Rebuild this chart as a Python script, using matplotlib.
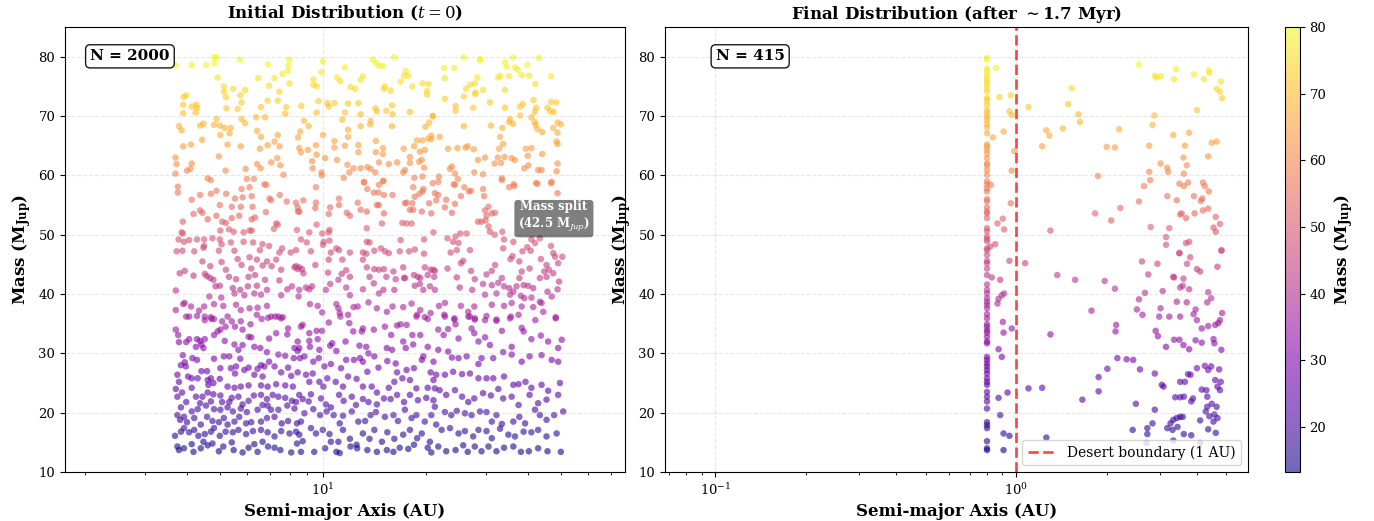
import matplotlib.pyplot as plt
import numpy as np
from matplotlib.colors import Normalize

# ---- data: (semi-major axis [AU], mass [M_Jup]) ----
# initial panel, upper band (M > ~58)
init_upper = [
    (3.70, 78.5), (4.12, 78.6), (4.54, 78.6), (4.79, 79.9), (4.87, 79.9), (4.81, 78.9), (5.70, 79.5), (6.90, 78.7),
    (7.96, 79.5), (7.93, 78.5), (7.90, 77.6), (7.61, 77.1), (4.91, 76.5), (6.46, 76.4), (7.21, 76.4), (7.98, 75.5),
    (6.95, 75.1), (5.12, 75.0), (5.45, 74.6), (5.91, 74.4), (5.72, 73.5), (5.19, 73.2), (3.90, 73.2), (3.97, 73.5),
    (5.12, 74.1), (7.45, 74.1), (6.88, 72.6), (5.77, 72.3), (7.37, 72.6), (7.80, 71.5), (6.58, 71.5), (3.89, 71.9),
    (4.12, 71.6), (4.25, 71.9), (4.27, 71.4), (5.21, 71.3), (5.62, 71.2), (3.89, 70.5), (4.23, 70.6), (7.75, 70.4),
    (4.87, 69.5), (5.77, 69.5), (6.37, 69.8), (6.76, 69.8), (5.91, 68.8), (3.78, 68.3), (3.85, 67.6), (4.36, 68.4),
    (4.46, 68.7), (4.79, 68.5), (4.98, 68.4), (5.14, 68.0), (5.36, 68.0), (5.00, 66.8), (5.32, 67.1), (6.41, 67.5),
    (7.37, 66.8), (6.58, 66.5), (4.42, 66.0), (4.10, 65.2), (3.89, 64.9), (5.25, 65.2), (5.74, 64.9), (6.53, 64.5),
    (6.88, 65.1), (7.21, 65.7), (7.46, 64.9), (4.95, 63.2), (3.69, 63.0), (3.72, 61.9), (4.12, 62.0), (3.99, 60.8),
    (4.08, 61.1), (7.05, 62.2), (6.41, 61.9), (6.56, 61.2), (7.34, 62.9), (7.50, 61.7), (5.18, 60.8), (5.93, 61.1),
    (3.69, 60.3), (4.59, 59.5), (4.69, 59.2), (5.98, 59.4), (6.27, 59.4), (6.73, 58.5), (7.66, 60.1),
    (10.0, 79.2), (9.9, 77.4), (9.37, 76.2), (9.37, 75.3), (9.58, 75.0), (11.6, 78.2), (14.0, 79.5), (14.3, 79.0),
    (14.6, 78.5), (15.0, 78.4), (16.2, 79.9), (17.5, 77.6), (17.3, 76.8), (17.8, 76.8), (16.9, 75.8), (18.3, 75.0),
    (19.6, 75.5), (20.4, 75.4), (20.2, 74.2), (20.2, 73.6), (13.1, 76.7), (12.9, 76.1), (11.0, 76.5), (11.25, 75.9),
    (12.05, 74.9), (12.45, 74.6), (15.2, 75.0), (15.1, 74.6), (15.8, 74.3), (8.64, 71.7), (9.7, 72.5), (10.3, 72.2),
    (10.4, 71.6), (10.8, 72.2), (11.85, 72.1), (12.7, 72.2), (14.25, 71.3), (14.4, 70.8), (15.35, 70.9), (15.95, 71.8),
    (18.0, 70.7), (9.58, 70.6), (11.6, 70.6), (12.9, 70.3), (16.0, 70.3), (21.0, 70.0), (8.8, 69.2), (9.08, 68.3),
    (8.58, 67.4), (8.45, 66.4), (10.0, 66.8), (11.4, 69.4), (11.85, 67.7), (11.85, 66.5), (12.9, 68.3), (13.75, 68.6),
    (13.8, 69.2), (15.95, 68.3), (20.5, 68.9), (20.0, 68.2), (18.9, 65.9), (19.6, 65.9), (20.4, 66.2), (20.8, 66.7),
    (14.3, 65.8), (8.52, 64.6), (8.62, 63.9), (9.03, 64.3), (9.54, 65.1), (9.58, 63.5), (10.8, 65.8), (10.8, 64.7),
    (11.6, 65.0), (12.7, 65.1), (12.7, 63.9), (15.0, 64.6), (15.0, 63.6), (17.25, 64.5), (18.5, 64.9), (19.25, 64.0),
    (19.9, 64.3), (9.29, 62.4), (10.15, 62.9), (11.0, 62.6), (14.3, 63.9), (14.6, 62.2), (15.6, 61.9), (16.5, 62.2),
    (18.0, 63.1), (18.0, 62.1), (19.15, 62.3), (19.5, 62.6), (9.33, 61.2), (9.9, 60.5), (9.92, 60.0), (11.8, 61.8),
    (11.95, 60.5), (12.3, 61.2), (12.9, 61.2), (13.5, 61.4), (13.8, 61.1), (14.25, 60.5), (17.2, 60.5), (17.4, 60.9),
    (19.8, 61.3), (19.6, 59.8), (18.55, 59.6), (11.5, 59.6), (13.2, 58.9), (15.05, 59.1),
    (25.9, 79.9), (28.9, 79.6), (28.9, 79.4), (36.2, 79.9), (43.0, 79.8), (34.2, 79.1), (22.7, 78.1), (24.3, 78.1),
    (34.6, 78.3), (37.3, 77.8), (36.6, 78.2), (39.8, 78.6), (22.8, 76.4), (28.4, 76.5), (27.9, 75.5), (27.0, 75.3),
    (26.3, 74.6), (28.0, 74.0), (28.0, 73.7), (29.5, 74.4), (32.7, 76.5), (33.1, 76.8), (35.2, 76.7), (38.3, 76.9),
    (40.3, 76.8), (42.0, 75.4), (46.7, 76.7), (34.2, 74.4), (25.9, 73.3), (22.8, 72.9), (30.9, 72.3), (24.5, 71.7),
    (24.5, 70.9), (27.6, 71.4), (34.2, 71.4), (37.9, 71.6), (38.6, 72.0), (41.5, 72.7), (42.2, 71.4), (41.9, 70.7),
    (45.6, 71.4), (46.7, 72.4), (48.4, 72.3), (46.5, 70.8), (47.5, 70.7), (21.0, 70.0), (25.9, 68.3), (31.1, 68.4),
    (33.6, 68.0), (35.4, 69.5), (35.2, 69.0), (36.1, 68.7), (37.9, 70.1), (40.9, 69.8), (41.8, 69.0), (42.1, 68.5),
    (42.6, 67.8), (44.0, 67.3), (47.4, 68.0), (48.8, 68.9), (49.9, 68.6), (48.8, 67.2), (20.8, 66.1), (22.0, 66.5),
    (33.1, 66.5), (33.8, 65.3), (48.5, 65.7), (48.8, 65.3), (23.3, 64.5), (24.8, 64.6), (26.2, 64.7), (26.6, 64.9),
    (27.7, 64.4), (32.9, 64.5), (34.1, 63.1), (32.6, 63.0), (39.4, 64.5), (40.9, 64.6), (39.9, 63.3), (44.0, 63.6),
    (29.9, 63.0), (28.5, 62.6), (31.9, 62.0), (33.3, 62.1), (35.8, 62.9), (36.6, 62.6), (39.0, 61.2), (40.1, 61.7),
    (42.8, 60.9), (43.8, 60.9), (48.8, 62.0), (48.5, 60.7), (23.6, 61.1), (23.9, 61.5), (24.4, 60.3), (27.8, 60.5),
    (29.5, 60.2), (33.5, 59.5), (21.9, 59.8), (24.9, 59.4), (21.8, 58.9), (24.2, 58.5), (36.3, 58.5), (42.2, 58.7),
    (46.9, 58.9),
]

# initial panel, middle band (~36 < M < ~58)
init_middle = [
    (3.75, 58.1), (3.75, 57.1), (4.12, 55.9), (4.36, 56.7), (4.69, 56.9), (4.87, 57.4), (5.20, 56.9), (5.77, 57.7),
    (6.09, 58.0), (6.82, 58.4), (5.52, 56.1), (5.81, 56.3), (6.18, 56.5), (6.97, 56.1), (7.04, 55.8), (7.47, 56.7),
    (7.83, 55.6), (8.43, 54.6), (8.53, 53.9), (4.98, 55.0), (5.40, 54.7), (5.74, 54.7), (6.21, 54.7), (6.80, 53.8),
    (4.17, 53.5), (4.36, 54.1), (4.43, 53.7), (4.59, 52.6), (4.87, 53.2), (5.40, 52.8), (5.68, 53.2), (6.18, 52.6),
    (6.32, 52.9), (3.88, 52.2), (5.06, 52.2), (5.19, 52.0), (7.29, 51.9), (7.37, 51.7), (7.18, 51.0), (8.39, 50.8),
    (3.85, 50.4), (3.88, 50.2), (3.77, 49.2), (3.91, 48.8), (4.05, 49.1), (4.27, 49.2), (4.48, 49.2), (4.74, 49.4),
    (5.00, 50.7), (5.30, 50.9), (5.47, 50.5), (5.85, 50.4), (6.09, 50.7), (6.18, 50.7), (4.98, 49.2), (5.04, 48.4),
    (5.37, 48.7), (5.85, 48.8), (6.24, 48.7), (6.65, 48.4), (6.95, 48.1), (7.59, 47.7), (8.04, 47.0), (8.34, 47.4),
    (3.72, 47.2), (3.87, 47.3), (4.19, 47.2), (4.46, 47.8), (4.48, 48.1), (4.95, 47.3), (5.50, 47.3), (6.53, 47.4),
    (7.45, 47.0), (4.43, 45.5), (5.04, 45.4), (5.62, 45.9), (6.09, 46.2), (6.40, 45.8), (6.85, 45.5), (7.29, 45.8),
    (3.93, 43.9), (3.80, 43.5), (4.17, 43.1), (4.50, 43.4), (4.67, 44.7), (5.19, 44.1), (5.77, 44.9), (6.16, 44.3),
    (6.65, 44.8), (7.07, 44.7), (7.54, 44.1), (8.25, 44.5), (8.43, 44.2), (4.67, 42.7), (4.77, 42.4), (4.57, 43.0),
    (5.30, 42.9), (5.56, 42.5), (6.05, 42.9), (6.32, 43.2), (6.76, 42.4), (7.45, 42.3), (4.84, 41.3), (4.98, 41.4),
    (5.44, 41.0), (5.72, 40.7), (6.02, 41.3), (6.40, 41.4), (6.58, 39.9), (6.85, 40.7), (7.86, 40.8), (8.11, 41.3),
    (3.70, 40.6), (4.64, 39.6), (5.03, 39.4), (5.50, 40.1), (5.88, 39.8), (6.29, 40.1), (7.54, 39.8), (3.89, 38.3),
    (3.93, 38.5), (4.10, 37.9), (4.48, 37.9), (4.33, 37.2), (4.79, 38.3), (5.10, 38.0), (5.56, 38.2), (5.74, 37.3),
    (6.09, 37.6), (6.43, 37.7), (6.85, 38.0), (4.27, 36.3), (4.50, 36.2), (4.69, 36.1), (3.70, 37.3), (3.97, 36.2),
    (5.25, 36.2), (6.40, 36.5), (7.04, 36.2), (7.40, 36.2), (7.62, 36.1),
    (9.54, 58.0), (13.2, 58.8), (14.6, 58.4), (15.0, 59.0), (13.5, 57.7), (14.1, 57.1), (14.55, 57.1), (15.1, 56.7),
    (16.0, 56.7), (18.4, 58.0), (19.2, 56.9), (19.6, 57.3), (19.7, 57.7), (21.0, 58.7), (18.6, 56.4), (17.6, 55.4),
    (18.3, 55.3), (8.76, 55.8), (8.33, 55.4), (8.45, 53.9), (9.54, 55.4), (9.5, 54.5), (10.5, 54.6), (10.4, 53.5),
    (11.15, 56.1), (11.15, 55.0), (11.75, 53.7), (12.0, 53.2), (12.65, 55.4), (12.9, 54.2), (13.45, 53.9), (14.4, 55.0),
    (14.6, 55.0), (15.1, 53.6), (17.4, 55.3), (18.0, 54.2), (18.4, 54.2), (19.5, 53.9), (20.5, 55.3), (20.8, 53.6),
    (9.58, 51.7), (9.12, 50.4), (9.95, 50.2), (10.45, 50.8), (10.4, 50.4), (14.9, 51.9), (17.1, 52.0), (17.6, 51.9),
    (18.2, 51.9), (13.45, 51.1), (21.1, 50.4), (8.62, 49.2), (8.96, 48.7), (10.05, 48.8), (10.0, 48.3), (10.45, 49.0),
    (13.45, 48.8), (13.7, 48.7), (16.9, 49.1), (19.8, 49.2), (9.22, 47.2), (10.55, 47.0), (10.95, 47.7), (11.15, 47.4),
    (12.0, 47.0), (13.1, 47.0), (13.4, 46.8), (14.15, 47.3), (14.8, 47.7), (15.2, 47.2), (15.6, 46.9), (16.8, 47.2),
    (17.9, 47.2), (18.6, 47.5), (19.8, 46.8), (8.33, 44.7), (8.52, 44.5), (8.68, 44.2), (8.76, 43.5), (9.5, 44.9),
    (10.4, 45.8), (11.4, 45.8), (13.1, 45.8), (13.45, 44.5), (14.15, 44.2), (14.6, 44.1), (15.1, 44.2), (16.1, 43.8),
    (17.2, 44.5), (19.9, 44.5), (20.7, 44.1), (21.1, 44.1), (10.35, 43.6), (11.35, 43.4), (11.7, 44.0), (12.0, 42.9),
    (15.35, 42.9), (16.35, 42.5), (17.4, 42.7), (18.5, 43.2), (19.0, 42.9), (19.3, 42.7), (20.3, 43.2), (8.52, 40.7),
    (8.92, 41.1), (9.12, 40.8), (9.29, 41.3), (10.2, 40.7), (10.5, 41.7), (11.1, 42.4), (11.7, 41.1), (12.0, 39.8),
    (13.1, 40.8), (13.7, 42.9), (14.1, 41.8), (15.05, 40.7), (16.2, 40.7), (17.3, 42.7), (18.6, 41.4), (19.25, 41.7),
    (19.7, 40.7), (20.6, 41.3), (8.48, 39.6), (9.16, 38.3), (9.65, 38.0), (9.95, 36.9), (10.95, 38.3), (11.1, 37.6),
    (11.2, 36.8), (11.85, 36.5), (12.3, 37.8), (12.65, 37.9), (13.6, 38.6), (14.4, 37.6), (14.6, 40.1), (15.4, 37.0),
    (16.0, 37.9), (17.2, 37.8), (18.2, 38.4), (19.3, 37.3), (18.9, 36.5), (19.9, 36.1), (20.7, 36.8),
    (24.4, 58.4), (26.0, 58.0), (27.2, 57.4), (29.5, 57.7), (33.5, 59.2), (35.2, 58.0), (36.4, 58.2), (42.6, 58.6),
    (46.7, 58.7), (48.8, 57.0), (21.8, 56.7), (23.0, 55.9), (24.4, 55.2), (25.4, 56.5), (26.8, 57.3), (29.7, 56.5),
    (30.6, 54.7), (31.3, 53.6), (32.0, 53.7), (29.9, 54.1), (30.2, 53.2), (23.9, 53.7), (22.8, 54.6), (21.5, 55.8),
    (21.3, 57.0), (28.5, 52.2), (29.2, 52.2), (30.0, 52.4), (30.9, 50.5), (31.9, 50.0), (33.6, 50.5), (30.6, 51.4),
    (26.4, 50.2), (25.3, 50.2), (24.5, 49.7), (23.2, 49.4), (25.0, 48.6), (24.1, 48.8), (24.7, 47.4), (23.7, 47.0),
    (27.0, 47.4), (34.0, 49.2), (33.8, 47.7), (36.2, 48.8), (38.5, 47.2), (39.8, 47.9), (40.9, 49.2), (41.9, 48.6),
    (40.7, 47.3), (43.3, 49.4), (46.7, 48.1), (47.4, 46.9), (48.0, 46.3), (49.0, 45.2), (50.4, 46.3), (37.7, 45.5),
    (35.5, 45.9), (36.0, 46.4), (43.6, 45.9), (45.3, 44.9), (46.0, 44.1), (47.4, 43.5), (44.6, 43.8), (40.4, 44.3),
    (38.3, 43.8), (32.0, 44.9), (31.3, 43.9), (30.2, 43.3), (27.2, 43.9), (25.4, 45.2), (25.8, 45.6), (23.2, 44.3),
    (21.3, 43.9), (21.2, 42.9), (24.7, 42.8), (27.9, 42.5), (33.5, 42.7), (37.7, 42.7), (34.0, 41.3), (35.2, 41.0),
    (37.0, 41.3), (36.2, 40.4), (38.8, 41.5), (40.0, 41.4), (41.4, 41.0), (43.3, 42.7), (45.3, 42.9), (49.3, 42.1),
    (48.8, 40.8), (45.6, 40.4), (21.3, 40.7), (25.2, 41.1), (27.4, 40.7), (29.5, 41.7), (31.3, 41.5), (32.7, 41.9),
    (29.9, 39.9), (32.3, 40.1), (35.4, 39.9), (38.1, 39.7), (39.0, 39.3), (40.9, 39.4), (43.3, 38.7), (46.9, 39.6),
    (21.9, 38.0), (22.8, 38.5), (25.4, 38.0), (26.7, 37.0), (27.8, 37.9), (31.3, 38.2), (34.0, 38.0), (35.8, 38.5),
    (38.3, 37.9), (41.4, 37.8), (43.8, 38.5), (44.3, 37.0), (22.7, 36.5), (24.3, 35.7), (27.0, 36.2), (27.9, 35.7),
    (30.2, 36.3), (32.3, 35.7), (35.6, 36.2), (37.5, 36.5), (48.2, 36.1),
]

# initial panel, lower band (M < ~36)
init_lower = [
    (4.05, 36.2), (4.50, 35.6), (4.71, 35.8), (4.79, 35.8), (5.06, 35.4), (5.40, 35.4), (5.74, 35.4), (6.13, 34.9),
    (6.61, 35.8), (6.90, 36.0), (7.24, 36.2), (7.54, 35.9), (3.70, 34.0), (3.76, 33.1), (4.05, 32.4), (4.27, 32.4),
    (4.36, 32.1), (4.50, 32.4), (4.79, 33.1), (4.91, 33.7), (5.00, 34.0), (5.18, 34.5), (5.52, 34.5), (5.81, 34.0),
    (6.05, 32.8), (6.16, 32.7), (6.95, 32.5), (7.29, 33.4), (7.86, 33.2), (7.90, 34.2), (3.78, 31.9), (3.97, 31.9),
    (4.24, 31.1), (4.40, 31.5), (4.46, 30.9), (5.15, 32.1), (5.50, 31.5), (5.65, 30.6), (5.81, 31.4), (6.29, 31.1),
    (6.55, 30.9), (6.85, 30.2), (7.40, 29.8), (8.25, 30.9), (8.43, 30.4), (3.88, 29.7), (3.93, 28.5), (4.14, 29.2),
    (4.27, 28.9), (4.79, 29.1), (5.12, 29.5), (5.31, 29.5), (5.56, 27.8), (5.72, 29.1), (6.05, 27.6), (6.43, 27.4),
    (6.58, 28.0), (6.95, 28.6), (7.75, 29.6), (8.21, 29.2), (7.90, 27.6), (3.83, 28.0), (3.96, 27.8), (4.40, 27.0),
    (4.57, 27.0), (5.00, 27.5), (5.37, 27.5), (5.52, 26.6), (5.88, 27.2), (6.29, 26.4), (6.65, 26.1), (6.73, 27.8),
    (7.21, 27.8), (7.54, 26.8), (8.07, 26.2), (8.43, 26.8), (3.74, 26.4), (3.78, 25.2), (4.02, 26.1), (4.12, 25.8),
    (4.29, 25.8), (4.59, 25.5), (4.61, 24.7), (4.69, 25.8), (4.77, 25.0), (4.98, 25.7), (5.25, 24.4), (5.50, 24.2),
    (5.74, 24.4), (6.05, 24.6), (6.58, 24.6), (6.88, 24.4), (7.29, 24.8), (7.75, 24.6), (8.16, 24.4), (3.70, 24.0),
    (3.74, 22.7), (3.86, 23.4), (4.12, 24.2), (4.24, 22.7), (4.43, 22.7), (4.59, 23.4), (4.69, 21.9), (4.77, 23.1),
    (5.00, 22.9), (5.06, 21.8), (5.31, 21.8), (5.40, 22.5), (5.65, 22.7), (5.81, 21.4), (6.05, 22.0), (6.27, 22.9),
    (6.58, 23.0), (6.85, 22.3), (7.12, 23.0), (7.40, 22.7), (7.75, 22.5), (8.11, 22.0), (8.34, 21.8), (3.83, 20.9),
    (3.97, 21.8), (4.12, 20.2), (4.29, 20.6), (4.36, 21.6), (4.54, 21.2), (4.79, 20.6), (5.00, 20.5), (5.25, 20.9),
    (5.44, 20.2), (5.74, 20.7), (5.98, 20.1), (6.43, 20.5), (6.65, 21.3), (6.88, 21.2), (7.04, 20.5), (7.40, 20.5),
    (7.86, 21.2), (8.25, 20.7), (3.74, 19.6), (3.81, 18.8), (3.91, 19.3), (3.99, 18.4), (4.19, 19.1), (4.38, 18.0),
    (4.57, 19.3), (4.74, 18.6), (4.95, 18.4), (5.12, 19.1), (5.25, 18.0), (5.50, 18.5), (5.68, 19.3), (5.95, 18.2),
    (6.16, 18.4), (6.58, 18.5), (6.85, 19.1), (7.21, 19.3), (7.57, 18.2), (7.90, 18.6), (8.39, 18.2), (3.68, 16.1),
    (3.83, 16.8), (3.91, 17.4), (4.05, 16.7), (4.19, 17.1), (4.31, 16.1), (4.50, 16.4), (4.69, 16.8), (4.79, 17.4),
    (4.98, 16.1), (5.18, 16.8), (5.44, 16.7), (5.65, 17.1), (5.95, 16.4), (6.23, 16.9), (6.58, 17.1), (6.88, 16.7),
    (7.21, 16.0), (7.54, 16.9), (7.98, 16.5), (8.34, 16.8), (3.74, 14.3), (3.78, 13.7), (3.91, 14.0), (4.12, 14.7),
    (4.17, 13.4), (4.38, 14.0), (4.46, 15.1), (4.59, 14.5), (4.74, 14.8), (4.95, 13.5), (5.10, 14.3), (5.40, 15.0),
    (5.47, 13.7), (5.81, 13.3), (6.05, 14.1), (6.29, 14.7), (6.43, 13.4), (6.65, 15.1), (6.90, 14.3), (7.21, 14.1),
    (7.50, 13.7), (8.07, 13.3), (8.39, 14.8),
    (8.62, 34.5), (8.72, 34.8), (9.12, 33.4), (9.58, 33.8), (9.94, 33.8), (10.4, 35.2), (11.25, 36.2), (11.95, 35.1),
    (12.27, 33.7), (13.0, 33.7), (13.1, 34.2), (14.1, 34.0), (15.2, 34.5), (15.85, 33.1), (16.5, 34.7), (16.9, 34.9),
    (17.6, 34.8), (18.3, 33.1), (19.3, 33.1), (18.8, 36.2), (20.3, 35.8), (8.43, 32.0), (8.52, 30.9), (9.12, 32.1),
    (9.16, 31.1), (9.65, 32.4), (9.76, 30.6), (10.5, 31.3), (10.65, 31.7), (10.95, 30.4), (11.65, 32.0), (12.8, 31.3),
    (13.4, 31.1), (13.6, 30.0), (14.15, 29.5), (15.4, 30.9), (15.95, 30.6), (17.2, 32.0), (17.5, 30.9), (18.4, 31.5),
    (19.7, 29.5), (20.3, 31.1), (21.1, 28.6), (8.56, 29.2), (8.82, 29.5), (9.37, 28.6), (9.72, 29.2), (10.1, 27.8),
    (10.55, 28.2), (11.3, 27.5), (11.7, 28.9), (12.33, 28.9), (12.84, 29.2), (13.1, 28.6), (13.5, 26.9), (14.55, 27.6),
    (15.45, 28.7), (16.35, 28.3), (16.5, 26.8), (17.6, 27.2), (18.5, 27.5), (19.5, 28.9), (20.7, 26.8), (8.92, 26.4),
    (9.12, 25.2), (9.33, 26.6), (9.76, 25.2), (10.03, 24.4), (10.3, 25.8), (10.9, 25.2), (11.45, 24.4), (11.85, 26.1),
    (12.55, 25.7), (13.1, 24.4), (13.9, 24.4), (14.4, 23.4), (15.6, 24.2), (16.2, 25.2), (17.1, 25.8), (18.0, 25.5),
    (18.8, 24.1), (20.3, 24.2), (21.1, 25.5), (8.52, 23.0), (8.72, 22.3), (9.08, 21.9), (9.22, 23.1), (9.87, 22.4),
    (10.2, 21.4), (10.55, 20.9), (11.15, 23.0), (11.5, 22.0), (12.15, 22.7), (12.5, 21.3), (13.1, 22.3), (13.6, 21.8),
    (14.4, 21.4), (15.1, 22.4), (15.8, 22.3), (16.5, 23.0), (17.3, 21.8), (18.0, 23.0), (19.0, 22.1), (20.1, 22.5),
    (21.1, 22.1), (8.62, 18.5), (8.82, 19.9), (9.37, 20.6), (9.81, 19.6), (10.25, 20.2), (10.75, 19.6), (11.2, 18.2),
    (11.45, 19.5), (12.15, 20.2), (12.7, 18.5), (13.3, 18.6), (13.8, 19.6), (14.3, 20.1), (15.2, 19.3), (16.1, 19.6),
    (16.6, 18.6), (17.4, 20.5), (18.2, 19.1), (18.8, 19.6), (19.9, 18.5), (20.8, 19.6), (8.52, 16.3), (8.72, 15.2),
    (9.22, 17.4), (9.54, 16.5), (9.99, 17.1), (10.45, 16.4), (10.55, 15.1), (11.1, 15.1), (11.45, 17.1), (12.0, 15.6),
    (12.55, 14.6), (13.1, 16.5), (13.7, 15.6), (14.15, 17.1), (14.9, 15.1), (15.45, 16.7), (16.2, 15.6), (17.2, 16.3),
    (18.0, 17.1), (18.9, 15.7), (19.5, 16.5), (20.6, 15.1), (8.62, 13.4), (9.43, 13.4), (10.15, 14.0), (10.95, 13.4),
    (11.2, 13.2), (12.05, 14.3), (12.6, 14.0), (13.5, 13.7), (14.4, 13.4), (15.4, 13.7), (16.1, 13.4), (16.8, 14.1),
    (17.8, 13.9), (18.5, 14.6), (20.3, 14.1), (20.8, 13.3),
    (22.8, 36.2), (24.3, 35.9), (26.7, 36.2), (27.9, 35.9), (29.9, 35.6), (32.3, 35.5), (35.4, 35.9), (38.3, 34.3),
    (42.0, 35.6), (48.2, 35.9), (21.8, 34.0), (22.6, 33.1), (23.3, 34.1), (24.5, 34.9), (25.0, 32.5), (27.3, 34.2),
    (27.8, 33.4), (28.6, 32.0), (29.9, 32.7), (30.9, 31.4), (33.5, 33.8), (35.8, 31.1), (38.8, 33.7), (40.9, 32.4),
    (43.6, 33.0), (45.8, 32.0), (49.0, 30.9), (50.2, 32.3), (21.8, 30.6), (23.3, 30.3), (23.9, 29.3), (25.0, 29.2),
    (26.4, 29.5), (28.6, 28.2), (29.2, 29.2), (31.6, 29.2), (33.8, 30.2), (35.8, 29.8), (38.3, 28.6), (40.4, 29.5),
    (43.8, 29.7), (46.9, 28.9), (49.0, 28.6), (21.5, 26.4), (22.8, 26.4), (24.1, 26.9), (25.6, 26.5), (27.0, 26.6),
    (28.6, 25.8), (30.2, 25.8), (31.6, 25.8), (34.0, 26.1), (36.2, 24.7), (37.5, 24.8), (39.3, 25.2), (40.9, 24.2),
    (43.8, 24.7), (45.8, 23.7), (49.6, 25.0), (21.3, 24.1), (22.0, 23.8), (23.0, 23.0), (24.4, 23.8), (25.6, 22.7),
    (26.7, 21.8), (27.8, 22.4), (29.5, 23.3), (31.1, 22.9), (32.7, 24.0), (33.8, 22.4), (35.8, 22.7), (37.5, 21.3),
    (40.4, 23.0), (42.8, 21.6), (45.3, 22.2), (49.0, 23.0), (21.3, 21.0), (22.8, 20.1), (23.8, 19.6), (24.7, 20.3),
    (26.1, 19.9), (27.3, 19.6), (28.9, 20.2), (30.2, 20.1), (31.3, 18.5), (32.3, 19.6), (33.5, 18.1), (36.2, 18.5),
    (37.7, 19.3), (39.2, 18.2), (41.9, 20.5), (43.3, 19.6), (45.3, 18.8), (47.7, 19.6), (50.7, 20.2), (21.5, 18.0),
    (22.3, 17.1), (23.6, 17.4), (25.0, 16.5), (26.1, 16.9), (27.6, 16.0), (28.6, 17.1), (30.2, 16.9), (31.3, 15.7),
    (33.1, 17.3), (35.0, 16.3), (36.6, 16.0), (38.8, 16.8), (40.9, 16.7), (42.8, 17.1), (45.3, 16.0), (48.5, 16.5),
    (21.8, 14.3), (23.0, 13.5), (24.5, 13.7), (25.8, 14.5), (26.6, 13.4), (27.9, 14.3), (29.2, 13.5), (30.6, 14.3),
    (32.3, 13.5), (34.0, 14.1), (36.2, 14.3), (38.1, 13.4), (40.2, 13.5), (42.8, 14.0), (45.6, 13.5), (49.9, 13.4),
]

# final panel: bodies parked at the inner edge (a = 0.8 AU), masses only
inner_edge_a = 0.8
final_inner_m = [
    79.8, 79.5, 78.0, 77.6, 76.9, 76.4, 75.8, 75.4, 74.7, 74.1, 73.0, 72.7, 71.9, 71.0, 70.5, 69.9, 69.4, 68.7,
    68.1, 67.1, 65.2, 64.9, 64.3, 63.7, 62.9, 62.0, 61.7, 60.9, 60.1, 59.0, 58.5, 57.8, 57.3, 56.0, 55.6, 54.6,
    53.9, 53.6, 52.8, 51.1, 50.6, 49.7, 49.3, 48.9, 47.7, 47.4, 46.6, 45.6, 45.2, 44.3, 43.2, 41.6, 40.7, 40.1,
    39.3, 38.7, 38.2, 37.6, 36.6, 35.9, 34.9, 34.5, 33.9, 33.5, 32.8, 32.0, 31.7, 29.4, 28.9, 28.3, 27.8, 27.2,
    26.6, 25.8, 25.2, 24.7, 23.5, 22.7, 21.9, 20.7, 18.4, 17.9, 17.4, 15.2, 14.0, 13.7,
]

# final panel: the scattered survivors
final_outer = [
    (0.858, 78.1), (0.880, 73.2), (0.960, 73.5), (0.950, 70.8), (0.967, 70.2), (1.099, 71.5), (0.908, 67.4),
    (0.837, 66.4), (0.985, 64.1), (0.967, 60.8), (0.824, 58.4), (0.960, 55.3), (0.867, 51.9), (0.903, 52.7),
    (0.912, 50.9), (0.820, 48.0), (0.852, 48.4), (0.950, 45.6), (1.071, 45.2), (0.830, 42.8), (0.885, 42.4),
    (0.912, 40.1), (0.896, 39.8), (0.874, 39.2), (0.867, 38.4), (0.903, 35.3), (0.908, 33.5), (0.967, 34.2),
    (0.874, 30.7), (0.896, 29.4), (1.099, 24.1), (0.936, 23.4), (0.874, 22.5), (0.885, 19.6), (0.908, 16.5),
    (0.950, 16.1), (0.908, 13.7),
    (1.26, 67.6), (1.29, 66.7), (1.22, 64.9), (1.43, 67.9), (1.53, 74.7), (1.49, 72.0), (1.61, 70.3), (1.63, 69.0),
    (2.20, 67.8), (2.00, 64.8), (2.13, 64.7), (1.87, 59.9), (2.22, 54.5), (1.83, 53.6), (2.07, 52.4), (1.30, 50.7),
    (2.56, 78.7), (2.89, 76.8), (2.93, 76.5), (3.02, 76.7), (3.40, 77.9), (3.35, 76.2), (3.90, 77.0), (4.21, 76.2),
    (4.37, 77.7), (4.39, 77.3), (4.79, 75.8), (4.64, 74.6), (4.76, 74.1), (4.84, 73.0), (3.99, 71.0), (2.88, 70.1),
    (2.84, 68.5), (3.33, 66.8), (3.76, 67.2), (2.77, 65.0), (3.64, 65.0), (4.47, 65.5), (4.64, 65.7), (4.35, 63.2),
    (3.60, 63.0), (3.69, 61.7), (3.02, 62.0), (3.18, 61.3), (3.20, 60.6), (3.61, 60.3), (2.77, 60.6), (2.79, 59.2),
    (2.66, 58.2), (3.49, 58.6), (3.61, 58.2), (3.73, 58.8), (4.18, 58.8), (4.24, 58.2), (4.37, 57.3), (2.56, 55.6),
    (3.18, 56.5), (3.42, 55.8), (3.90, 56.5), (4.16, 56.1), (4.11, 55.7), (3.51, 53.4), (3.55, 53.6), (3.67, 52.8),
    (3.92, 53.6), (4.18, 54.1), (4.35, 54.4), (4.61, 53.0), (4.76, 51.8), (4.53, 51.2), (4.61, 50.5), (2.80, 51.3),
    (3.23, 51.1), (3.15, 49.6), (3.15, 48.3), (3.67, 48.6), (3.76, 48.8), (3.49, 46.9), (4.82, 47.4),
    (1.37, 43.2), (1.57, 42.4), (1.97, 42.2), (2.13, 40.9), (2.62, 45.5), (2.95, 45.1), (2.75, 43.3), (3.35, 42.8),
    (3.60, 42.6), (3.49, 46.9), (3.79, 46.2), (3.70, 45.1), (3.99, 44.2), (4.09, 43.8), (4.67, 44.6), (4.81, 47.3),
    (3.33, 42.9), (3.58, 41.4), (3.76, 40.8), (3.51, 41.1), (3.07, 40.5), (2.68, 40.2), (2.56, 39.1), (2.52, 37.4),
    (2.63, 36.5), (3.02, 37.6), (3.23, 36.2), (3.51, 36.2), (3.42, 38.7), (3.69, 38.6), (3.95, 37.4), (3.89, 36.6),
    (3.99, 35.6), (4.35, 40.3), (4.45, 39.3), (4.32, 38.6), (4.84, 36.8), (4.76, 35.6), (4.70, 35.1), (4.59, 34.8),
    (4.35, 34.6), (4.14, 34.2), (2.99, 36.2), (2.91, 33.8), (2.96, 32.9), (3.15, 31.1), (3.35, 32.3), (3.49, 32.3),
    (3.60, 31.4), (3.76, 30.7), (3.95, 32.2), (4.14, 31.8), (4.53, 32.4), (4.56, 31.7), (4.81, 30.6), (1.78, 37.2),
    (2.15, 34.8), (2.14, 33.7), (1.30, 33.2), (2.17, 29.2), (2.33, 29.0), (2.45, 28.9), (2.01, 27.4), (1.88, 26.0),
    (2.58, 27.3), (2.89, 26.6), (3.05, 24.7), (3.09, 24.4), (3.51, 25.2), (3.64, 25.2), (3.73, 26.5), (3.80, 26.4),
    (3.99, 27.5), (4.24, 27.9), (4.35, 27.2), (4.45, 27.8), (4.73, 27.3), (4.59, 25.5), (4.79, 25.2), (4.67, 24.4),
    (4.76, 23.8), (4.14, 23.9), (4.29, 23.8), (4.32, 22.7), (3.87, 22.4), (3.38, 22.6), (3.51, 22.6), (3.61, 22.7),
    (3.82, 21.9), (4.32, 21.0), (4.47, 21.5), (4.64, 21.0), (4.27, 20.2), (4.56, 19.7), (4.67, 19.1), (4.39, 19.4),
    (4.53, 18.5), (4.09, 18.7), (2.50, 21.5), (2.89, 20.5), (1.22, 24.2), (1.88, 23.6), (1.66, 22.2), (3.33, 18.8),
    (3.42, 19.1), (3.51, 19.3), (3.58, 19.3), (3.26, 18.2), (3.18, 17.4), (3.31, 17.1), (3.44, 17.6), (2.73, 17.4),
    (2.44, 17.1), (2.84, 18.2), (2.73, 16.4), (3.61, 16.4), (3.82, 16.2), (4.35, 17.2), (4.61, 16.6), (4.09, 14.9),
    (3.33, 15.3), (2.71, 14.9), (1.26, 15.8),
]

n_init = 2000
n_final = 415
mass_split = 42.5
desert_a = 1.0
mass_lo, mass_hi = 13.2, 80.0

# ---- plotting ----
plt.rcParams.update({
    'font.family': 'serif',
    'font.serif': ['DejaVu Serif'],
    'mathtext.fontset': 'dejavuserif',
})

init = np.array(init_upper + init_middle + init_lower)
outer = np.array(final_outer)
fin_a = np.concatenate([np.full(len(final_inner_m), inner_edge_a), outer[:, 0]])
fin_m = np.concatenate([np.array(final_inner_m), outer[:, 1]])

fig = plt.figure(figsize=(13.74, 5.21), dpi=100)
ax1 = fig.add_axes([0.0473, 0.094, 0.4076, 0.854])
ax2 = fig.add_axes([0.484, 0.094, 0.4243, 0.854])
cax = fig.add_axes([0.935, 0.094, 0.011, 0.854])

norm = Normalize(vmin=mass_lo, vmax=mass_hi)
dot = dict(cmap='plasma', norm=norm, s=22, alpha=0.6, edgecolors='none')

ax1.scatter(init[:, 0], init[:, 1], c=init[:, 1], **dot)
sc = ax2.scatter(fin_a, fin_m, c=fin_m, **dot)

mlab = r'Mass (M$_{\mathbf{Jup}}$)'
for ax in (ax1, ax2):
    ax.set_xscale('log')
    ax.set_ylim(10, 85)
    ax.set_xlabel('Semi-major Axis (AU)', fontsize=12, fontweight='bold')
    ax.set_ylabel(mlab, fontsize=12, fontweight='bold')
    ax.grid(True, which='major', linestyle='--', alpha=0.3)
    ax.tick_params(labelsize=9.5)

ax1.set_xlim(1.75, 77)
ax2.set_xlim(0.068, 5.9)

ax1.set_title(r'Initial Distribution ($t = 0$)', fontsize=12, fontweight='bold')
ax2.set_title(r'Final Distribution (after $\sim$1.7 Myr)', fontsize=12, fontweight='bold')

box = dict(boxstyle='round,pad=0.3', facecolor='white', edgecolor='black', alpha=0.9)
ax1.text(0.045, 0.95, f'N = {n_init}', transform=ax1.transAxes, fontsize=11,
         fontweight='bold', va='top', ha='left', bbox=box)
ax2.text(0.087, 0.95, f'N = {n_final}', transform=ax2.transAxes, fontsize=11,
         fontweight='bold', va='top', ha='left', bbox=box)

ax1.text(0.873, 0.573, f'Mass split\n({mass_split} M$_{{Jup}}$)', transform=ax1.transAxes,
         fontsize=8.5, fontweight='bold', color='white', ha='center', va='center',
         bbox=dict(boxstyle='round,pad=0.3', facecolor='black', alpha=0.5, edgecolor='none'))

ax2.axvline(desert_a, color='red', linestyle='--', linewidth=2, alpha=0.7,
            label='Desert boundary (1 AU)')
ax2.legend(loc='lower right', fontsize=10)

cb = fig.colorbar(sc, cax=cax)
cb.set_label(mlab, fontsize=12, fontweight='bold')
cb.ax.tick_params(labelsize=9.5)

fig.savefig('out.png', dpi=100)
